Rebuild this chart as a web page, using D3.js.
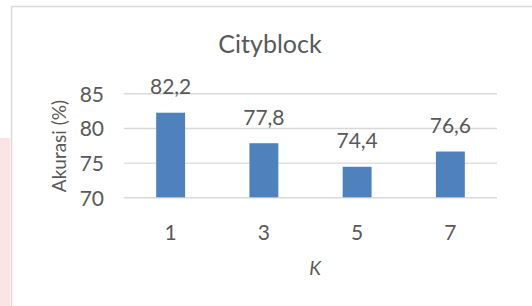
<!DOCTYPE html>
<html>
<head>
<meta charset="utf-8">
<script src="https://cdn.jsdelivr.net/npm/d3@7"></script>
<style>
  body { margin: 0; background: #fff; }
  text { font-family: Lato, "Open Sans", sans-serif; fill: #595959; }
</style>
</head>
<body>
<div id="chart"></div>
<script>
const categories = ["1", "3", "5", "7"];
const values = [82.2, 77.8, 74.4, 76.6];
const yTicks = [70, 75, 80, 85];
const title = "Cityblock";
const xTitle = "K";
const yTitle = "Akurasi (%)";

const width = 532, height = 306;
const plot = {left: 124, right: 497, top: 93.3, bottom: 197.3};

let svg = d3.select("#chart").append("svg")
    .attr("width", width)
    .attr("height", height)
    .attr("viewBox", [0, 0, width, height]);

// pink strip on the left, from the page behind the chart
svg.append("rect")
    .attr("x", 0).attr("y", 138)
    .attr("width", 10).attr("height", height - 138)
    .attr("fill", "#fde3e3");

// chart area border (runs off the right and bottom)
svg.append("rect")
    .attr("x", 11.5).attr("y", 6.5)
    .attr("width", 600).attr("height", 400)
    .attr("fill", "#fff")
    .attr("stroke", "#d9d9d9")
    .attr("stroke-width", 1.5);

let x = d3.scaleBand()
    .domain(categories)
    .range([plot.left, plot.right])
    .paddingInner(0.69)
    .paddingOuter(0.345);

let y = d3.scaleLinear()
    .domain([70, 85])
    .range([plot.bottom, plot.top]);

// gridlines + y tick labels
let yAxis = svg.append("g")
    .attr("transform", `translate(${plot.left},0)`)
    .call(d3.axisLeft(y).tickValues(yTicks).tickSize(-(plot.right - plot.left)).tickPadding(20));
yAxis.select(".domain").remove();
yAxis.selectAll(".tick line").attr("stroke", "#d9d9d9").attr("stroke-width", 1.4);
yAxis.selectAll(".tick text")
    .attr("fill", "#595959")
    .style("font-size", "21px")
    .style("font-family", "Lato, sans-serif")
    .attr("dy", "0.38em");

// x tick labels
let xAxis = svg.append("g")
    .attr("transform", `translate(0,${plot.bottom})`)
    .call(d3.axisBottom(x).tickSize(0).tickPadding(28));
xAxis.select(".domain").remove();
xAxis.selectAll(".tick text")
    .attr("fill", "#595959")
    .style("font-size", "21px")
    .style("font-family", "Lato, sans-serif");

// bars
svg.append("g").selectAll("rect")
    .data(values)
    .join("rect")
    .attr("x", (d, i) => x(categories[i]))
    .attr("y", d => y(d))
    .attr("width", x.bandwidth())
    .attr("height", d => y(70) - y(d))
    .attr("fill", "#4f81bd");

// data labels
svg.append("g").selectAll("text")
    .data(values)
    .join("text")
    .attr("x", (d, i) => x(categories[i]) + x.bandwidth() / 2)
    .attr("y", d => y(d) - 18.5)
    .attr("text-anchor", "middle")
    .style("font-size", "21px")
    .text(d => d.toFixed(1).replace(".", ","));

// title
svg.append("text")
    .attr("x", 270).attr("y", 53)
    .attr("text-anchor", "middle")
    .style("font-size", "25px")
    .text(title);

// axis titles
svg.append("text")
    .attr("transform", "translate(66,146) rotate(-90)")
    .attr("text-anchor", "middle")
    .style("font-size", "19px")
    .text(yTitle);

svg.append("text")
    .attr("x", 315).attr("y", 275)
    .attr("text-anchor", "middle")
    .style("font-size", "19px")
    .style("font-style", "italic")
    .text(xTitle);
</script>
</body>
</html>
